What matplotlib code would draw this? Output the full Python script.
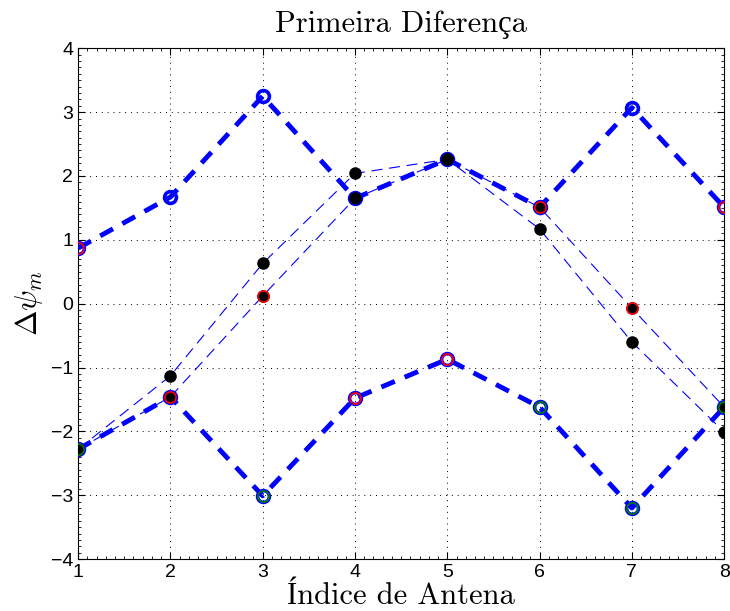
import numpy as np
import matplotlib
matplotlib.use("Agg")
import matplotlib.pyplot as plt
from matplotlib.ticker import AutoMinorLocator

plt.rcParams['font.family'] = ['Liberation Sans', 'DejaVu Sans']
plt.rcParams['mathtext.fontset'] = 'cm'

# antenna index
antena = [1, 2, 3, 4, 5, 6, 7, 8]

# thick dashed envelopes (blue circles)
upper = [0.87, 1.67, 3.25, 1.65, 2.26, 1.51, 3.07, 1.51]
lower = [-2.28, -1.46, -3.01, -1.48, -0.87, -1.62, -3.20, -1.62]

# thin dashed lines with black dots
est_a = [-2.28, -1.13, 0.63, 2.04, 2.26, 1.17, -0.60, -2.01]
est_b = [-2.28, -1.46, 0.12, 1.65, 2.26, 1.51, -0.07, -1.62]

# red rings
red_pts = [0.87, -1.46, 0.12, -1.48, -0.87, 1.51, -0.07, 1.51]

# green rings (only where visible)
green_x = [1, 3, 6, 7, 8]
green_pts = [-2.28, -3.01, -1.62, -3.20, -1.62]

fig = plt.figure(figsize=(7.3, 6.11), dpi=100)
ax = fig.add_axes([0.107, 0.085, 0.885, 0.836])

# thick envelopes
for serie in (upper, lower):
    ax.plot(antena, serie, color='blue', lw=3.5, ls=(0, (3, 2.2)),
            marker='o', ms=8.5, mfc='none', mec='blue', mew=2.6, zorder=3)

# thin estimate lines
for serie in (est_a, est_b):
    ax.plot(antena, serie, color='blue', lw=0.8, ls=(0, (10, 6)), zorder=4)

# black dots
ax.plot(antena, est_a, ls='none', marker='o', ms=8, mfc='black', mec='black', zorder=5)
ax.plot(antena, est_b, ls='none', marker='o', ms=8, mfc='black', mec='black', zorder=5)

# rings
ax.plot(antena, red_pts, ls='none', marker='o', ms=8, mfc='none', mec='red', mew=1.2, zorder=6)
ax.plot(green_x, green_pts, ls='none', marker='o', ms=8, mfc='none', mec='green', mew=1.2, zorder=6)

ax.set_xlim(1, 8)
ax.set_ylim(-4, 4)
ax.set_xticks(range(1, 9))
ax.set_yticks(range(-4, 5))
ax.xaxis.set_minor_locator(AutoMinorLocator(10))
ax.yaxis.set_minor_locator(AutoMinorLocator(10))
ax.tick_params(which='both', direction='in', top=True, right=True, labelsize=14)
ax.tick_params(which='major', length=5, width=0.8)
ax.tick_params(which='minor', length=2.5, width=0.6)
ax.grid(True, which='major', ls=(0, (1, 5)), color='black', lw=0.7)
ax.set_axisbelow(True)
for s in ax.spines.values():
    s.set_linewidth(0.8)

serif = ['cmr10', 'Liberation Serif']
ax.set_title('Primeira Diferença', family=serif, fontsize=22, pad=12)
ax.set_xlabel('Índice de Antena', family=serif, fontsize=22, labelpad=1)
ax.set_ylabel(r'$\Delta\psi_m$', fontsize=22, labelpad=4)

fig.savefig('out.png', dpi=100)
